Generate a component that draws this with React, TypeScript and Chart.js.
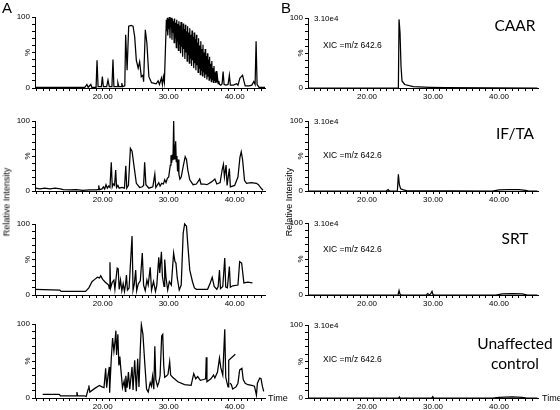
import React, { useEffect, useRef } from 'react';
import { Chart, registerables } from 'chart.js';

Chart.register(...registerables);

type Pt = [number, number | null];

// ---------- Data (time in min, relative intensity in %) ----------
const caarTIC: Pt[] = [
  [9.8, 1], [17.3, 1], [17.6, 5], [17.8, 1], [18.2, 5], [18.35, 1], [19.0, 1], [19.14, 39], [19.3, 2],
  [19.8, 2], [19.95, 16], [20.1, 2], [20.6, 2], [20.8, 11], [21.0, 2], [21.4, 2], [21.56, 40], [21.7, 2],
  [22.2, 2], [22.3, 7.5], [22.45, 2], [22.8, 2], [22.9, 7], [23.0, 2], [23.35, 3], [23.48, 75], [23.7, 25],
  [23.94, 87], [24.3, 88], [24.6, 87], [24.85, 72], [25.1, 39], [25.38, 28], [25.6, 37], [25.85, 16], [26.1, 18],
  [26.2, 9], [26.46, 82], [26.7, 63], [27.0, 16], [27.4, 7.5], [28.1, 6], [28.4, 10], [28.6, 5], [28.9, 14],
  [29.05, 5], [29.2, 16], [29.35, 8],
  [29.65, 96], [29.72, 80], [29.8, 99], [29.86, 74], [29.97, 97], [30.03, 83], [30.1, 100], [30.2, 70],
  [30.27, 95], [30.33, 86], [30.41, 99], [30.5, 68], [30.58, 97], [30.63, 78], [30.72, 94], [30.83, 64],
  [30.9, 98], [30.96, 71], [31.05, 92], [31.16, 57], [31.22, 96], [31.3, 66], [31.38, 90], [31.47, 53],
  [31.55, 94], [31.61, 62], [31.7, 88], [31.8, 49], [31.87, 93], [31.93, 58], [32.02, 85], [32.12, 44],
  [32.2, 91], [32.27, 55], [32.36, 83], [32.46, 41], [32.53, 89], [32.6, 50], [32.7, 80], [32.8, 38],
  [32.87, 87], [32.94, 47], [33.03, 78], [33.13, 35], [33.2, 84], [33.27, 42], [33.37, 75], [33.47, 31],
  [33.54, 81], [33.61, 39], [33.7, 72], [33.8, 28], [33.87, 78], [33.94, 35], [34.03, 69], [34.13, 25],
  [34.2, 75], [34.27, 32], [34.36, 64], [34.46, 22], [34.53, 70], [34.6, 28], [34.7, 60], [34.8, 19],
  [34.87, 66], [34.94, 25], [35.03, 55], [35.13, 17], [35.2, 61], [35.27, 22], [35.37, 50], [35.47, 14],
  [35.54, 55], [35.61, 19], [35.7, 45], [35.8, 12], [35.87, 49], [35.94, 16], [36.03, 40], [36.13, 11],
  [36.2, 44], [36.27, 14], [36.37, 34], [36.47, 9], [36.54, 38], [36.61, 12], [36.7, 28], [36.8, 8],
  [36.87, 31], [36.94, 10], [37.03, 22], [37.13, 7], [37.2, 24], [37.3, 8], [37.4, 15], [37.5, 6],
  [37.6, 10], [37.7, 5],
  [37.9, 4], [38.1, 6], [38.25, 23], [38.4, 5], [38.7, 4], [39.0, 5], [39.2, 18], [39.35, 4], [39.8, 4],
  [40.3, 6], [40.5, 4], [40.8, 14], [41.2, 18], [41.4, 10], [41.6, 3], [42.2, 3], [42.6, 4], [42.9, 9],
  [43.1, 5], [43.25, 66], [43.4, 5], [43.7, 1], [44.6, 1],
];

const iftaTIC: Pt[] = [
  [9.8, 4], [10.5, 3], [11.2, 4], [12.0, 3], [12.8, 4], [13.6, 3], [14.0, 2], [15.0, 1.5], [16.0, 2],
  [17.0, 1], [18.0, 1.5], [19.0, 1.5], [19.3, 2], [19.4, 8], [19.5, 2], [19.9, 3], [20.1, 6], [20.3, 3],
  [20.5, 9], [20.7, 4], [20.9, 7], [21.1, 5], [21.3, 41], [21.45, 6], [21.6, 10], [21.8, 8], [21.97, 30],
  [22.1, 5], [22.3, 8], [22.5, 4], [22.9, 5], [23.3, 4], [23.5, 36], [23.65, 4], [23.9, 8], [24.2, 61],
  [24.45, 57], [24.8, 32], [25.1, 11], [25.6, 5], [26.0, 6], [26.2, 8], [26.36, 41], [26.55, 9], [27.0, 4],
  [27.6, 6], [27.9, 24], [28.05, 5], [28.5, 12], [28.7, 7], [28.95, 11], [29.2, 10], [29.4, 16], [29.6, 12],
  [29.8, 18], [30.0, 20], [30.25, 37], [30.35, 51], [30.45, 40], [30.55, 52], [30.65, 44], [30.76, 100],
  [30.85, 46], [30.95, 54], [31.06, 71], [31.15, 42], [31.25, 50], [31.35, 28], [31.45, 45], [31.55, 24],
  [31.7, 17], [31.9, 20], [32.2, 35], [32.5, 49], [32.7, 45], [32.9, 30], [33.2, 16], [33.7, 9], [34.2, 10],
  [34.7, 17], [34.9, 10], [35.3, 10], [35.8, 9], [36.5, 13], [37.0, 17], [37.3, 10], [37.8, 12], [38.1, 30],
  [38.3, 38], [38.45, 20], [38.7, 37], [38.85, 8], [39.2, 32], [39.35, 6], [40.0, 8], [40.5, 20], [40.8, 48],
  [41.0, 56], [41.2, 45], [41.5, 15], [41.8, 11], [42.5, 12], [43.3, 11], [43.6, 9], [44.0, 4], [44.3, 1],
];

const srtTIC: Pt[] = [
  [9.8, 8], [13.5, 7], [13.7, 5], [17.4, 5], [17.9, 10], [18.4, 19], [18.8, 22], [19.2, 25], [19.5, 24],
  [19.7, 27], [20.0, 22], [20.4, 18], [20.9, 14], [21.0, 9], [21.1, 46], [21.2, 10], [21.45, 18], [21.7, 21],
  [21.85, 8], [22.1, 30], [22.2, 38], [22.35, 37], [22.5, 8], [22.7, 21], [22.9, 6], [23.1, 16], [23.3, 5],
  [23.45, 14], [23.6, 28], [23.75, 7], [24.0, 10], [24.45, 83], [24.6, 7], [24.8, 16], [25.0, 35], [25.15, 6],
  [25.4, 16], [25.7, 20], [26.0, 59], [26.2, 14], [26.45, 6], [26.7, 21], [26.9, 14], [27.2, 39], [27.4, 7],
  [27.7, 19], [28.0, 5], [28.2, 14], [28.5, 53], [28.65, 31], [28.9, 61], [29.05, 26], [29.3, 12], [29.4, 50],
  [29.6, 24], [29.85, 7], [30.1, 19], [30.4, 14], [30.75, 59], [30.95, 47], [31.1, 45], [31.3, 24], [31.6, 7],
  [31.9, 14], [32.2, 87], [32.42, 100], [32.7, 97], [32.9, 71], [33.2, 35], [33.6, 19], [33.9, 10], [34.2, 8],
  [35.0, 8], [35.9, 8], [36.3, 17], [36.6, 25], [36.9, 12], [37.3, 8], [37.5, 12], [37.7, 35], [37.85, 9],
  [38.2, 12], [38.5, 52], [38.65, 11], [38.9, 10], [39.2, 40], [39.35, 11], [39.7, 13], [40.5, 14],
  [40.76, 47], [41.06, 45], [41.4, 17], [42.0, 18], [42.7, 17],
];

const controlTIC: Pt[] = [
  [10.9, 5], [13.4, 5], [13.6, 3], [16.0, 3], [16.1, 8], [16.2, 3], [17.2, 3], [17.5, 2], [17.8, 12],
  [17.9, 17], [18.05, 8], [18.8, 13], [19.5, 17], [19.9, 15], [20.2, 14], [20.45, 40], [20.6, 14], [20.8, 30],
  [21.0, 42], [21.05, 7], [21.3, 53], [21.5, 81], [21.7, 63], [21.85, 75], [22.0, 91], [22.1, 58], [22.3, 86],
  [22.45, 44], [22.6, 56], [22.75, 39], [23.0, 14], [23.25, 23], [23.45, 9], [23.5, 30], [23.7, 14], [23.9, 35],
  [24.1, 12], [24.45, 42], [24.6, 11], [24.85, 51], [25.1, 9], [25.3, 53], [25.5, 15], [25.7, 67], [25.86, 99],
  [26.1, 86], [26.4, 44], [26.65, 12], [26.9, 8], [27.2, 21], [27.4, 16], [27.55, 29], [27.75, 12], [27.9, 70],
  [28.05, 25], [28.3, 16], [28.5, 21], [28.7, 30], [28.94, 84], [29.1, 86], [29.25, 44], [29.4, 28], [29.7, 30],
  [29.9, 32], [30.15, 49], [30.3, 31], [30.6, 28], [31.4, 22], [32.4, 18], [33.4, 17], [33.8, 33], [34.1, 26],
  [34.4, 29], [34.8, 24], [35.3, 25], [35.6, 26], [35.7, 55], [35.8, 22], [36.4, 26], [36.8, 31], [37.0, 27],
  [37.4, 35], [37.7, 54], [37.9, 41], [38.2, 31], [38.5, 93], [38.65, 28], [38.8, 22], [39.0, 15], [39.1, 51],
  [40.1, 59], [40.1, null],
  [39.3, 20], [39.5, 18], [39.7, 12], [40.2, 15], [40.5, 20], [40.76, 38], [41.1, 40], [41.3, 25], [41.6, 20],
  [42.0, 18], [42.6, 17], [43.0, 16], [43.3, 4], [43.45, 20], [43.8, 27], [44.0, 26], [44.2, 16], [44.4, 9],
];

const caarXIC: Pt[] = [
  [11.1, 0], [24.75, 0], [24.85, 98], [25.0, 79], [25.15, 31], [25.3, 10], [25.7, 5], [27.0, 2], [29.5, 1],
  [32.0, 0.5], [45.8, 0],
];
const iftaXIC: Pt[] = [
  [11.1, 0], [22.9, 0], [23.2, 2], [23.4, 0], [24.6, 0], [24.75, 24], [24.9, 9], [25.1, 3], [25.5, 1.5],
  [26.0, 0.5], [39.0, 0], [40.0, 1.5], [41.5, 2], [43.0, 2], [44.0, 1], [44.5, 0], [45.8, 0],
];
const srtXIC: Pt[] = [
  [11.1, 0], [24.7, 0], [24.85, 6], [25.0, 1], [25.2, 0], [29.0, 0], [29.2, 2], [29.4, 0.5], [29.6, 1],
  [29.85, 5], [30.0, 0.5], [30.2, 0], [39.5, 0], [40.5, 1.5], [42.0, 2], [43.5, 1.5], [44.3, 0], [45.8, 0],
];
const controlXIC: Pt[] = [
  [11.1, 0], [24.8, 0], [24.9, 1.5], [25.0, 0], [29.8, 0], [29.95, 2], [30.1, 0], [39.0, 0], [40.0, 1],
  [42.0, 1.5], [43.5, 1], [44.2, 0], [45.8, 0],
];

const xLabelTimes = [20, 30, 40];
const yLabelValues = [0, 100];
const sampleNames = ['CAAR', 'IF/TA', 'SRT', 'Unaffected\ncontrol'];
const xicScale = '3.10e4';
const xicText = 'XIC =m/z 642.6';

// ---------- Layout ----------
const AX = { left: 0, width: 280, axisW: 35, padR: 15, xMin: 9.74, xMax: 44.6 };
const BX = { left: 280, width: 280, axisW: 28, padR: 22, xMin: 11.06, xMax: 45.9 };
const aRows = [[17, 88], [121, 191], [224, 295], [324, 398]];
const bRows = [[18, 88], [121, 191], [223, 295], [325, 398]];
const xicTextY = [44.5, 155, 249, 359];
const nameY = [23, 131, 236, 341];

const FONT = '"Liberation Sans", Arial, sans-serif';

const percentPlugin = {
  id: 'pctLabel',
  afterDraw(chart: any) {
    const ys = chart.scales.y;
    const ctx = chart.ctx;
    ctx.save();
    ctx.font = '8px ' + FONT;
    ctx.fillStyle = '#000';
    ctx.textAlign = 'center';
    ctx.textBaseline = 'middle';
    ctx.translate(ys.right - 7, ys.getPixelForValue(50));
    ctx.rotate(-Math.PI / 2);
    ctx.fillText('%', 0, 0);
    ctx.restore();
  },
};

function Panel(props: { geo: any; row: number[]; data: Pt[] }) {
  const { geo, row, data } = props;
  const ref = useRef<HTMLCanvasElement | null>(null);
  const top = row[0] - 8;
  const height = row[1] - row[0] + 22;
  useEffect(() => {
    const chart = new Chart(ref.current as HTMLCanvasElement, {
      type: 'line',
      data: {
        datasets: [
          {
            data: data.map(([x, y]) => ({ x, y })) as any,
            borderColor: '#000',
            borderWidth: 1.25,
            pointRadius: 0,
            tension: 0,
            fill: false,
            spanGaps: false,
            clip: 3,
          } as any,
        ],
      },
      options: {
        animation: false,
        responsive: false,
        devicePixelRatio: 1,
        layout: { padding: { top: 8, right: geo.padR, left: 0, bottom: 0 } },
        plugins: { legend: { display: false }, tooltip: { enabled: false } },
        scales: {
          x: {
            type: 'linear',
            min: geo.xMin,
            max: geo.xMax,
            afterFit: (s: any) => {
              s.height = 14;
            },
            grid: { drawOnChartArea: false, tickLength: 3, color: '#000' },
            border: { color: '#000', width: 1 },
            ticks: {
              stepSize: 1,
              autoSkip: false,
              includeBounds: false,
              maxRotation: 0,
              minRotation: 0,
              padding: 1,
              color: '#000',
              font: { family: FONT, size: 8 },
              callback: (v: any) => {
                const n = Number(v);
                return xLabelTimes.some((t) => Math.abs(t - n) < 1e-6) ? n.toFixed(2) : '';
              },
            },
          },
          y: {
            type: 'linear',
            min: 0,
            max: 100,
            afterFit: (s: any) => {
              s.width = geo.axisW;
            },
            grid: { drawOnChartArea: false, tickLength: 3, color: '#000' },
            border: { color: '#000', width: 1 },
            ticks: {
              stepSize: 10,
              autoSkip: false,
              padding: 2,
              color: '#000',
              font: { family: FONT, size: 8 },
              callback: (v: any) => {
                const n = Number(v);
                return yLabelValues.some((t) => Math.abs(t - n) < 1e-6) ? String(n) : '';
              },
            },
          },
        },
      },
      plugins: [percentPlugin],
    });
    return () => chart.destroy();
  }, []);
  return (
    <canvas
      ref={ref}
      width={geo.width}
      height={height}
      style={{ position: 'absolute', left: geo.left, top, width: geo.width, height }}
    />
  );
}

const txt = (extra: React.CSSProperties): React.CSSProperties => ({
  position: 'absolute',
  whiteSpace: 'nowrap',
  lineHeight: 1,
  fontFamily: FONT,
  color: '#000',
  ...extra,
});

export default function App() {
  const tics = [caarTIC, iftaTIC, srtTIC, controlTIC];
  const xics = [caarXIC, iftaXIC, srtXIC, controlXIC];
  return (
    <div
      style={{
        position: 'absolute',
        left: 0,
        top: 0,
        width: 560,
        height: 410,
        overflow: 'hidden',
        background: '#fff',
      }}
    >
      {tics.map((d, i) => (
        <Panel key={'a' + i} geo={AX} row={aRows[i]} data={d} />
      ))}
      {xics.map((d, i) => (
        <Panel key={'b' + i} geo={BX} row={bRows[i]} data={d} />
      ))}
      <div style={txt({ left: 2, top: 0, fontSize: 15 })}>A</div>
      <div style={txt({ left: 281, top: 0, fontSize: 15 })}>B</div>
      <div style={txt({ left: 7, top: 202, fontSize: 9, transform: 'translate(-50%,-50%) rotate(-90deg)' })}>
        Relative Intensity
      </div>
      <div style={txt({ left: 289, top: 202, fontSize: 9, transform: 'translate(-50%,-50%) rotate(-90deg)' })}>
        Relative Intensity
      </div>
      <div style={txt({ left: 268, top: 398, fontSize: 9, transform: 'translateY(-50%)' })}>Time</div>
      <div style={txt({ left: 542, top: 398, fontSize: 9, transform: 'translateY(-50%)' })}>Time</div>
      {bRows.map((r, i) => (
        <div key={'s' + i} style={txt({ left: 314, top: r[0] + 0.5, fontSize: 8, transform: 'translateY(-50%)' })}>
          {xicScale}
        </div>
      ))}
      {xicTextY.map((y, i) => (
        <div key={'x' + i} style={txt({ left: 323, top: y, fontSize: 8.5, transform: 'translateY(-50%)' })}>
          {xicText}
        </div>
      ))}
      {sampleNames.map((n, i) => (
        <div
          key={'n' + i}
          style={txt({
            left: 515,
            top: nameY[i] - 8,
            fontSize: 15.5,
            lineHeight: '20px',
            fontFamily: 'Lato, "Open Sans", sans-serif',
            textAlign: 'center',
            whiteSpace: 'pre',
            transform: 'translateX(-50%)',
          })}
        >
          {n}
        </div>
      ))}
    </div>
  );
}
